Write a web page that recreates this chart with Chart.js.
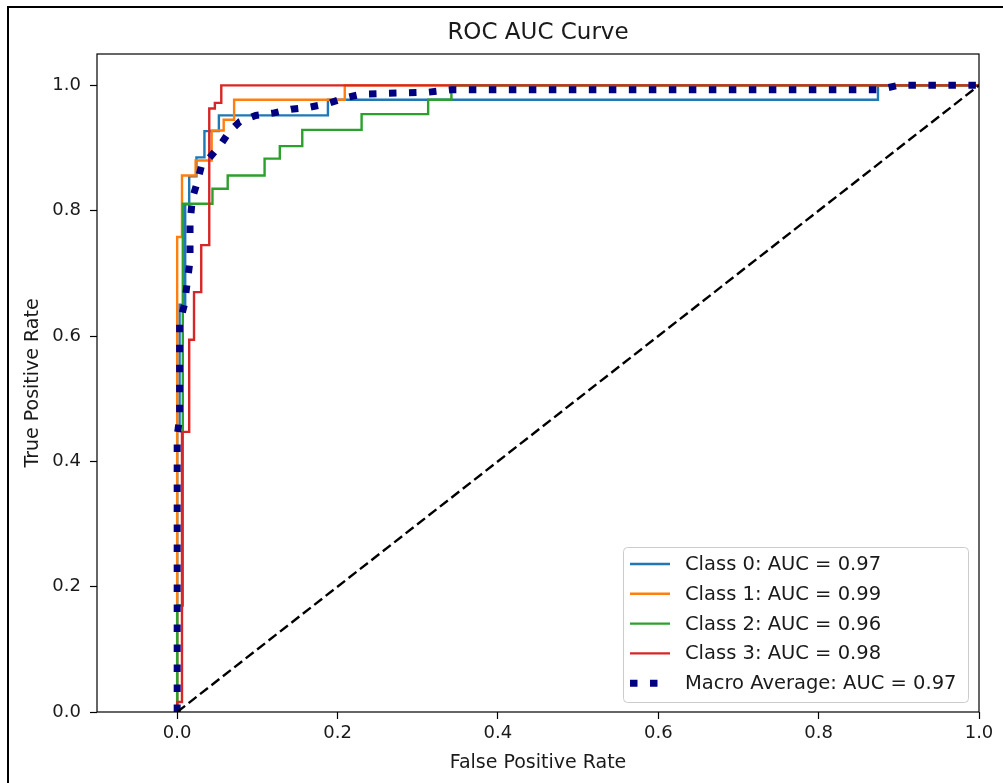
<!DOCTYPE html>
<html><head><meta charset="utf-8">
<script src="https://cdn.jsdelivr.net/npm/chart.js@4/dist/chart.umd.min.js"></script>
<style>
html,body{margin:0;padding:0;background:#fff;}
#wrap{position:relative;width:1003px;height:783px;overflow:hidden;background:#fff;}
#frame{position:absolute;left:7px;top:6px;width:1100px;height:900px;border-left:2px solid #000;border-top:2px solid #000;pointer-events:none;}
canvas{position:absolute;left:0;top:0;}
</style></head><body>
<div id="wrap"><canvas id="c" width="1003" height="783"></canvas><div id="frame"></div></div>
<script>
// ---- data ----
const chartTitle = 'ROC AUC Curve';
const xAxisTitle = 'False Positive Rate';
const yAxisTitle = 'True Positive Rate';
const xTickValues = [0.0, 0.2, 0.4, 0.6, 0.8, 1.0];
const yTickValues = [0.0, 0.2, 0.4, 0.6, 0.8, 1.0];

const legendLabels = ['Class 0: AUC = 0.97', 'Class 1: AUC = 0.99', 'Class 2: AUC = 0.96', 'Class 3: AUC = 0.98', 'Macro Average: AUC = 0.97'];

const class0Fpr = [0, 0, 0.003, 0.003, 0.010, 0.010, 0.015, 0.015, 0.024, 0.024, 0.034, 0.034, 0.052, 0.052, 0.188, 0.188, 0.874, 0.874, 1.0];
const class0Tpr = [0, 0.45, 0.45, 0.65, 0.65, 0.81, 0.81, 0.855, 0.855, 0.885, 0.885, 0.927, 0.927, 0.952, 0.952, 0.977, 0.977, 1.0, 1.0];

const class1Fpr = [0, 0, 0.006, 0.006, 0.023, 0.023, 0.043, 0.043, 0.058, 0.058, 0.071, 0.071, 0.209, 0.209, 1.0];
const class1Tpr = [0, 0.758, 0.758, 0.856, 0.856, 0.88, 0.88, 0.928, 0.928, 0.945, 0.945, 0.977, 0.977, 1.0, 1.0];

const class2Fpr = [0, 0, 0.007, 0.007, 0.044, 0.044, 0.063, 0.063, 0.109, 0.109, 0.128, 0.128, 0.156, 0.156, 0.230, 0.230, 0.313, 0.313, 0.342, 0.342, 1.0];
const class2Tpr = [0, 0.17, 0.17, 0.811, 0.811, 0.835, 0.835, 0.856, 0.856, 0.883, 0.883, 0.903, 0.903, 0.929, 0.929, 0.954, 0.954, 0.977, 0.977, 1.0, 1.0];

const class3Fpr = [0, 0, 0.006, 0.006, 0.015, 0.015, 0.021, 0.021, 0.030, 0.030, 0.040, 0.040, 0.047, 0.047, 0.055, 0.055, 1.0];
const class3Tpr = [0, 0.016, 0.016, 0.447, 0.447, 0.594, 0.594, 0.670, 0.670, 0.745, 0.745, 0.963, 0.963, 0.972, 0.972, 1.0, 1.0];

const macroFpr = [0, 0, 0.003, 0.003, 0.009, 0.013, 0.016, 0.016, 0.019, 0.025, 0.030, 0.042, 0.055, 0.065, 0.078, 0.098, 0.121, 0.142, 0.165, 0.188, 0.209, 0.230, 0.313, 0.342, 0.874, 0.900, 1.0];
const macroTpr = [0, 0.44, 0.47, 0.62, 0.65, 0.69, 0.72, 0.78, 0.82, 0.845, 0.870, 0.887, 0.907, 0.926, 0.942, 0.952, 0.956, 0.962, 0.965, 0.971, 0.980, 0.986, 0.989, 0.993, 0.993, 1.0, 1.0];

const chanceFpr = [0, 1];
const chanceTpr = [0, 1];

// ---- build ----
const FONT = '"DejaVu Sans", "Liberation Sans", sans-serif';
const TEXT = '#1a1a1a';
const pts = (xs, ys) => xs.map((x, i) => ({x: x, y: ys[i]}));

const seriesFpr = [class0Fpr, class1Fpr, class2Fpr, class3Fpr, macroFpr];
const seriesTpr = [class0Tpr, class1Tpr, class2Tpr, class3Tpr, macroTpr];
const seriesColors = ['#1f77b4', '#ff7f0e', '#2ca02c', '#d62728', '#000080'];

const datasets = seriesFpr.map((xs, i) => {
  const macro = i === 4;
  return {
    label: legendLabels[i],
    data: pts(xs, seriesTpr[i]),
    showLine: true,
    borderColor: seriesColors[i],
    backgroundColor: seriesColors[i],
    borderWidth: macro ? 7 : 2.4,
    borderDash: macro ? [7.5, 12.5] : [],
    borderCapStyle: 'butt',
    borderJoinStyle: 'miter',
    pointRadius: 0,
    tension: 0,
    fill: false,
    inLegend: true,
    order: macro ? 1 : 5 - i
  };
});
datasets.push({
  label: 'chance',
  data: pts(chanceFpr, chanceTpr),
  showLine: true,
  borderColor: '#000',
  borderWidth: 2.4,
  borderDash: [10, 4.5],
  borderCapStyle: 'butt',
  pointRadius: 0,
  fill: false,
  inLegend: false,
  order: 0
});

const framePlugin = {
  id: 'frame',
  afterDatasetsDraw(chart) {
    const {ctx, chartArea: a} = chart;
    ctx.save();
    ctx.strokeStyle = '#000';
    ctx.lineWidth = 1.2;
    ctx.setLineDash([]);
    ctx.strokeRect(a.left, a.top, a.right - a.left, a.bottom - a.top);
    ctx.restore();
  }
};

const titlePlugin = {
  id: 'axesTitle',
  afterDraw(chart) {
    const {ctx, chartArea: a} = chart;
    ctx.save();
    ctx.fillStyle = TEXT;
    ctx.font = '23px ' + FONT;
    ctx.textAlign = 'center';
    ctx.textBaseline = 'middle';
    ctx.fillText(chartTitle, (a.left + a.right) / 2, a.top - 21);
    ctx.restore();
  }
};

const legendPlugin = {
  id: 'boxLegend',
  afterDatasetsDraw(chart) {
    const {ctx, chartArea: a} = chart;
    const items = chart.data.datasets.filter(d => d.inLegend);
    const w = 345, h = 155;
    const x0 = a.right - 11 - w + 0.5, y0 = a.bottom - 10 - h + 0.5;
    ctx.save();
    ctx.beginPath();
    ctx.roundRect(x0, y0, w, h, 4);
    ctx.fillStyle = 'rgba(255,255,255,0.8)';
    ctx.fill();
    ctx.strokeStyle = '#cccccc';
    ctx.lineWidth = 1;
    ctx.stroke();
    items.forEach((d, i) => {
      const y = y0 + 16.5 + i * 29.8;
      ctx.beginPath();
      ctx.setLineDash(d.borderDash || []);
      ctx.lineDashOffset = 0;
      ctx.lineWidth = d.borderWidth;
      ctx.strokeStyle = d.borderColor;
      ctx.lineCap = 'butt';
      ctx.moveTo(x0 + 6.5, y);
      ctx.lineTo(x0 + 46.5, y);
      ctx.stroke();
      ctx.setLineDash([]);
      ctx.fillStyle = TEXT;
      ctx.font = '19.5px ' + FONT;
      ctx.textBaseline = 'middle';
      ctx.textAlign = 'left';
      ctx.fillText(d.label, x0 + 61.5, y + 1);
    });
    ctx.restore();
  }
};

new Chart(document.getElementById('c'), {
  type: 'scatter',
  data: { datasets: datasets },
  plugins: [framePlugin, legendPlugin, titlePlugin],
  options: {
    responsive: false,
    devicePixelRatio: 1,
    animation: false,
    events: [],
    layout: { padding: { top: 54, right: 24, bottom: 0, left: 0 } },
    plugins: {
      legend: { display: false },
      tooltip: { enabled: false },
      title: { display: false }
    },
    scales: {
      x: {
        type: 'linear', min: -0.1, max: 1.0,
        afterBuildTicks: s => { s.ticks = xTickValues.map(v => ({ value: v })); },
        afterFit: s => { s.height = 71; },
        ticks: { color: TEXT, font: { family: FONT, size: 18 }, padding: 4, maxRotation: 0, autoSkip: false,
                 callback: v => Number(v).toFixed(1) },
        grid: { display: true, drawOnChartArea: false, drawTicks: true, tickLength: 7, color: '#000', tickColor: '#000', tickWidth: 1.2 },
        border: { display: false },
        title: { display: true, text: xAxisTitle, color: TEXT, font: { family: FONT, size: 19, lineHeight: 1.2 }, padding: { top: 0, bottom: 8.6 } }
      },
      y: {
        type: 'linear', min: 0, max: 1.05,
        afterBuildTicks: s => { s.ticks = yTickValues.map(v => ({ value: v })); },
        afterFit: s => { s.width = 97; },
        ticks: { color: TEXT, font: { family: FONT, size: 18 }, padding: 9, autoSkip: false,
                 callback: v => Number(v).toFixed(1) },
        grid: { display: true, drawOnChartArea: false, drawTicks: true, tickLength: 7, color: '#000', tickColor: '#000', tickWidth: 1.2 },
        border: { display: false },
        title: { display: true, text: yAxisTitle, color: TEXT, font: { family: FONT, size: 19, lineHeight: 1.2 }, padding: { top: 21.6, bottom: 0 } }
      }
    }
  }
});
</script>
</body></html>
